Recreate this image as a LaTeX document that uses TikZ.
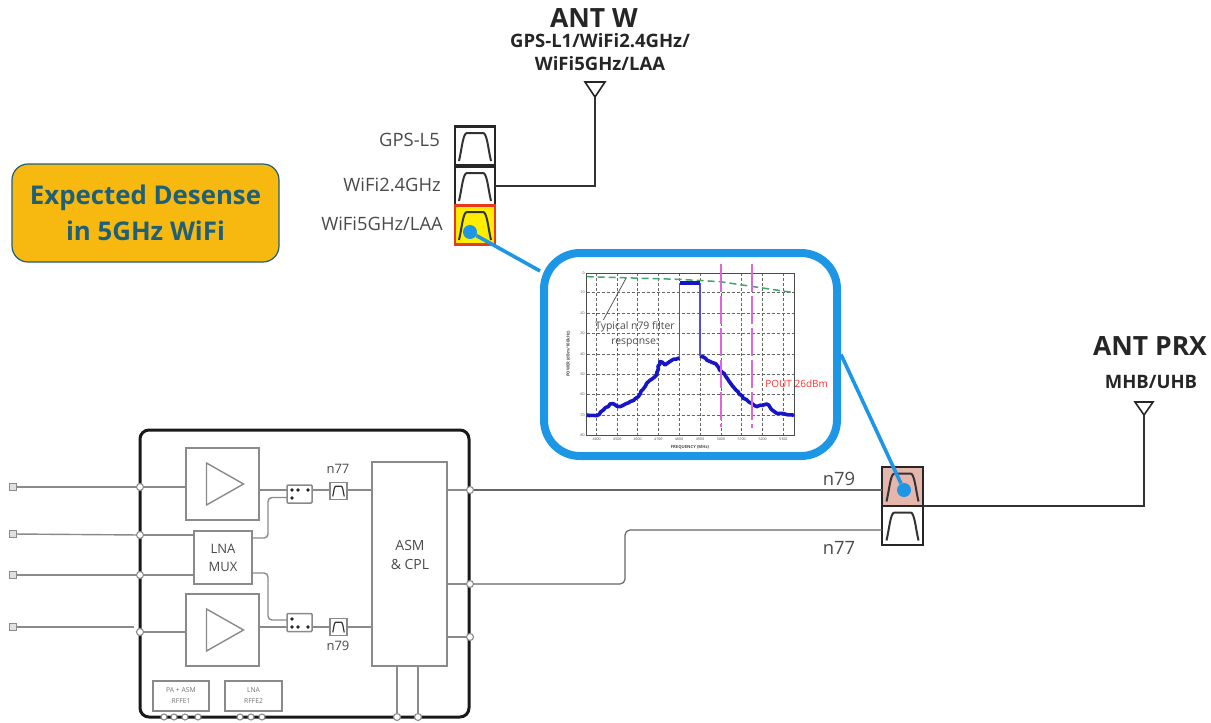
\documentclass[tikz,border=0pt]{standalone}
\usepackage{fontspec}
\setmainfont{Open Sans}
\usepackage{tikz}
\usetikzlibrary{positioning, calc, decorations.pathmorphing}

\definecolor{calloutblue}{HTML}{1E96E6}
\definecolor{wiregray}{HTML}{8A8A8A}
\definecolor{labelgray}{HTML}{4A4A4A}
\definecolor{badgeyellow}{HTML}{F7B90F}
\definecolor{badgeteal}{HTML}{1F6078}
\definecolor{filterpink}{HTML}{E5B6AC}
\definecolor{filterred}{HTML}{E8391C}
\definecolor{specblue}{HTML}{1616C8}
\definecolor{limitgreen}{HTML}{3FA56B}
\definecolor{markmagenta}{HTML}{DD66D8}

% band-pass curve inside a filter box: name, scale, line width
\newcommand{\passband}[3]{
    \draw[black!80, line width=#3, shift={(#1.center)}, scale=#2]
        (-16,15) .. controls (-13,2) and (-12,-13) .. (-8,-13) -- (8,-13) .. controls (12,-13) and (13,2) .. (16,15);
}
% amplifier triangle inside a PA box
\newcommand{\ampglyph}[1]{
    \draw[wire, shift={(#1.center)}] (-16,-21) -- (-16,21) -- (21,0) -- cycle;
}

\begin{document}
\begin{tikzpicture}[
    x=1pt, y=-1pt,
    wire/.style={draw=wiregray, line width=1.4pt},
    blockbox/.style={
        rectangle,
        draw=wiregray,
        fill=white,
        line width=1.5pt,
        inner sep=0pt,
        outer sep=0pt,
        align=center,
        text=labelgray,
        font=\fontsize{13}{18}\selectfont
    },
    pabox/.style={blockbox, minimum width=73pt, minimum height=72pt},
    muxbox/.style={blockbox, minimum width=58pt, minimum height=53pt},
    asmbox/.style={blockbox, minimum width=75pt, minimum height=204pt},
    rffebox/.style={blockbox, minimum height=30pt, text=black!55, font=\fontsize{6.8}{11}\selectfont},
    switchbox/.style={blockbox, minimum width=25pt, minimum height=18pt, rounded corners=1pt},
    tinyfilter/.style={blockbox, minimum width=17pt, minimum height=17pt},
    portbox/.style={blockbox, fill=black!12, minimum width=7pt, minimum height=7pt, line width=1pt},
    padnode/.style={circle, draw=wiregray, fill=white, line width=1.1pt, minimum size=7pt, inner sep=0pt, outer sep=0pt},
    filterbox/.style={
        rectangle,
        draw=black!85,
        fill=white,
        line width=2.2pt,
        inner sep=0pt,
        outer sep=0pt,
        minimum width=40pt,
        minimum height=39pt
    },
    antenna/.style={draw=black!85, fill=white, line width=1.6pt, line join=miter},
    feedline/.style={draw=black!80, line width=2pt},
    tag/.style={text=labelgray, inner sep=0pt, font=\fontsize{18.4}{22}\selectfont},
    anttitle/.style={text=black!85, inner sep=0pt, align=center, font=\fontsize{26.5}{30}\bfseries\selectfont},
    antband/.style={text=black!85, inner sep=0pt, align=center, font=\fontsize{18.5}{23}\bfseries\selectfont},
    dotnode/.style={circle, fill=calloutblue, minimum size=14pt, inner sep=0pt},
    callline/.style={draw=calloutblue, line width=3.6pt},
    gridline/.style={black!60, line width=0.6pt, dash pattern=on 3pt off 2pt},
    plottext/.style={text=black!70, inner sep=0pt, font=\fontsize{3.6}{4}\selectfont}
]
    \useasboundingbox (0,0) rectangle (1211,723);

    % --- MODULE OUTLINE AND BLOCKS ---
    \node[draw=black!90, line width=3pt, rounded corners=9pt, minimum width=329pt, minimum height=287pt, inner sep=0pt, outer sep=0pt] (chip) at (304.5,573.5) {};
    \node[pabox] (pa_top) at (222.5,484) {};
    \node[pabox] (pa_bot) at (222.5,630) {};
    \node[muxbox] (lna_mux) at (223,557.5) {LNA\\MUX};
    \node[asmbox] (asm) at (409.5,564) {};
    \node[text=labelgray, inner sep=0pt, align=center, font=\fontsize{14}{19}\selectfont] (asm_lbl) at (410,554.5) {ASM\\\& CPL};
    \node[rffebox, minimum width=56pt] (rffe_a) at (181,696) {PA + ASM\\RFFE1};
    \node[rffebox, minimum width=57pt] (rffe_b) at (253.5,696) {LNA\\RFFE2};
    \ampglyph{pa_top}
    \ampglyph{pa_bot}

    % Switches and small filters
    \node[switchbox] (sw_top) at (299.5,494) {};
    \node[switchbox] (sw_bot) at (299.5,622.5) {};
    \node[tinyfilter] (flt_77) at (338.5,491) {};
    \node[tinyfilter] (flt_79) at (338.5,627) {};
    \passband{flt_77}{0.36}{1.2pt}
    \passband{flt_79}{0.36}{1.2pt}
    \foreach \px in {292,298,308} {
        \fill[black!85] (\px,490) circle (1.8pt);
        \fill[black!85] (\px,627) circle (1.8pt);
    }
    \fill[black!85] (292,498) circle (1.8pt);
    \fill[black!85] (292,619) circle (1.8pt);
    \node[text=labelgray, inner sep=0pt, font=\fontsize{13}{15}\selectfont] (lbl_n77) at (338,469) {n77};
    \node[text=labelgray, inner sep=0pt, font=\fontsize{13}{15}\selectfont] (lbl_n79) at (338,646) {n79};

    % Pads on the module edge
    \node[padnode] (pad_a) at (140,487) {};
    \node[padnode] (pad_b) at (140,535) {};
    \node[padnode] (pad_c) at (140,575) {};
    \node[padnode] (pad_d) at (140,632) {};
    \node[padnode] (pad_e) at (470,490) {};
    \node[padnode] (pad_f) at (470,584) {};
    \node[padnode] (pad_g) at (470,637) {};
    \node[padnode] (pad_h) at (397,717) {};
    \node[padnode] (pad_i) at (418,717) {};
    \foreach \px in {164,174,185,198,240,251,262} {
        \node[padnode, minimum size=6pt] (pad_\px) at (\px,717) {};
    }

    % Outside ports
    \node[portbox] (port_a) at (13,487) {};
    \node[portbox] (port_b) at (13,534) {};
    \node[portbox] (port_c) at (13,575) {};
    \node[portbox] (port_d) at (13,627) {};
    \coordinate (port_d_end) at (134,627);

    % Wires inside and left of the module
    \draw[wire] (port_a) -- (pad_a);
    \draw[wire] (port_b) -- (pad_b);
    \draw[wire] (port_c) -- (pad_c);
    \draw[wire] (port_d) -- (port_d_end);
    \draw[wire] (pad_a) -- (pa_top.west |- pad_a);
    \draw[wire] (pad_b) -- (lna_mux.west |- pad_b);
    \draw[wire] (pad_c) -- (lna_mux.west |- pad_c);
    \draw[wire] (pad_d) -- (pa_bot.west |- pad_d);
    \draw[wire] (pa_top.east |- 0,490) -- (sw_top.west |- 0,490);
    \draw[wire] (pa_bot.east |- 0,627) -- (sw_bot.west |- 0,627);
    \draw[wire] (sw_top.east |- 0,490) -- (flt_77.west |- 0,490);
    \draw[wire] (sw_bot.east |- 0,627) -- (flt_79.west);
    \draw[wire] (flt_77.east |- 0,490) -- (asm.west |- 0,490);
    \draw[wire] (flt_79.east) -- (asm.west |- flt_79);
    \draw[wire, rounded corners=4pt] (lna_mux.east |- 0,538) -| (268,497.5) -- (sw_top.west |- 0,497.5);
    \draw[wire, rounded corners=4pt] (lna_mux.east |- 0,573) -| (268,620) -- (sw_bot.west |- 0,620);
    \draw[wire] (asm.east |- pad_e) -- (pad_e);
    \draw[wire] (asm.east |- pad_f) -- (pad_f);
    \draw[wire] (asm.east |- pad_g) -- (pad_g);
    \draw[wire] (asm.south -| pad_h) -- (pad_h);
    \draw[wire] (asm.south -| pad_i) -- (pad_i);

    % --- RECEIVE FILTERS AND ANT PRX ---
    \node[filterbox, fill=filterpink, minimum width=41pt] (flt_prx79) at (902.5,486.5) {};
    \node[filterbox, minimum width=41pt] (flt_prx77) at (902.5,525.5) {};
    \passband{flt_prx79}{1}{2pt}
    \passband{flt_prx77}{1}{2pt}
    \coordinate (ant_prx) at (1144,415);
    \draw[antenna] (1135,402) -- (1153,402) -- (ant_prx) -- cycle;
    \draw[feedline] (flt_prx79.south east) -- (ant_prx |- flt_prx79.south east) -- (ant_prx);
    \draw[draw=black!60, line width=1.2pt] (pad_e) -- (flt_prx79.west |- pad_e);
    \draw[draw=black!60, line width=1.2pt, rounded corners=5pt] (pad_f) -| (625,530) -- (flt_prx77.west |- 0,530);
    \node[tag] (lbl_rx79) at (839,479) {n79};
    \node[tag] (lbl_rx77) at (839,548) {n77};
    \node[anttitle] (title_prx) at (1150,346) {ANT PRX};
    \node[antband] (band_prx) at (1151,382) {MHB/UHB};

    % --- WIFI FILTERS AND ANT W ---
    \node[filterbox] (flt_gps) at (475,146) {};
    \node[filterbox] (flt_wifi2) at (475,186) {};
    \node[filterbox, fill=yellow!95!orange, draw=filterred] (flt_wifi5) at (475,225) {};
    \passband{flt_gps}{1}{2pt}
    \passband{flt_wifi2}{1}{2pt}
    \passband{flt_wifi5}{1}{2pt}
    \coordinate (ant_w) at (595,97);
    \draw[antenna] (585,82) -- (605,82) -- (ant_w) -- cycle;
    \draw[feedline] (flt_wifi2.east) -- (ant_w |- flt_wifi2.east) -- (ant_w);
    \node[tag, anchor=east] (lbl_gps) at (440,140) {GPS-L5};
    \node[tag, anchor=east] (lbl_wifi2) at (441,185) {WiFi2.4GHz};
    \node[tag, anchor=east] (lbl_wifi5) at (443,224) {WiFi5GHz/LAA};
    \node[anttitle] (title_w) at (594,18) {ANT W};
    \node[antband] (band_w) at (600,52) {GPS-L1/WiFi2.4GHz/\\WiFi5GHz/LAA};

    % Badge
    \node[draw=badgeteal, fill=badgeyellow, line width=1.2pt, rounded corners=16pt, minimum width=267pt, minimum height=98pt, inner sep=0pt, align=center, text=badgeteal, font=\fontsize{25.8}{36}\bfseries\selectfont] (badge) at (145.5,213) {Expected Desense\\in 5GHz WiFi};

    % --- CALLOUT WITH SPECTRUM PLOT ---
    \node[draw=calloutblue, fill=white, line width=8pt, rounded corners=36pt, minimum width=293pt, minimum height=203pt, inner sep=0pt, outer sep=4pt] (callout) at (690.5,354.5) {};
    \node[dotnode] (dot_wifi) at (470,232) {};
    \node[dotnode] (dot_rx) at (904,490) {};
    \draw[callline] (dot_wifi) -- (callout);
    \draw[callline] (dot_rx) -- (callout.east);

    \begin{scope}[shift={(540,250)}, scale=0.3333]
        % grid (coordinates in a 3x frame of the plot)
        \foreach \gy in {128,190,250,312,372,432,495} {
            \draw[gridline] (140,\gy) -- (762,\gy);
        }
        \foreach \gx in {170,232,293,355,417,480,543,605,668,730} {
            \draw[gridline] (\gx,70) -- (\gx,555);
        }
        \draw[black!70, line width=0.9pt] (140,70) rectangle (762,555);
        \draw[limitgreen, line width=1.5pt, dash pattern=on 7pt off 4pt] (140,80) -- (417,88) -- (540,95) -- (762,128);
        \draw[specblue, line width=3.6pt, line join=round, decorate, decoration={random steps, segment length=3pt, amplitude=0.9pt}]
            (140,495) -- (170,497) -- (190,480) -- (210,462) -- (225,464) -- (240,470) -- (270,455) -- (295,440)
            -- (320,400) -- (350,375) -- (360,335) -- (375,345) -- (400,328) -- (418,324);
        \draw[specblue, line width=3.6pt, line join=round, decorate, decoration={random steps, segment length=3pt, amplitude=0.9pt}]
            (480,318) -- (500,330) -- (530,345) -- (545,365) -- (575,405) -- (610,445) -- (650,470) -- (680,462)
            -- (710,490) -- (762,497);
        \draw[specblue!75!white, line width=1.1pt] (418,324) -- (418,98) (480,98) -- (480,318);
        \draw[specblue, line width=4pt] (420,98) -- (480,98);
        \draw[markmagenta, line width=1.8pt, dash pattern=on 28pt off 4pt] (543,42) -- (543,530);
        \draw[markmagenta, line width=1.8pt, dash pattern=on 28pt off 4pt] (637,42) -- (637,535);
        \draw[black!65, line width=0.8pt] (258,85) -- (190,210);
        \foreach \gx/\ftxt in {170/4400,232/4500,293/4600,355/4700,417/4800,480/4900,543/5000,605/5100,668/5200,730/5300} {
            \node[plottext] (xt\ftxt) at (\gx,568) {\ftxt};
        }
        \foreach \gy/\ptxt in {70/0,128/-10,190/-20,250/-30,312/-40,372/-50,432/-60,495/-70,555/-80} {
            \node[plottext, anchor=east] (yt\gy) at (135,\gy) {\ptxt};
        }
        \node[plottext, font=\fontsize{4.2}{5}\bfseries\selectfont] (xaxis_lbl) at (450,592) {FREQUENCY (MHz)};
        \node[plottext, rotate=90, font=\fontsize{4.2}{5}\bfseries\selectfont] (yaxis_lbl) at (85,312) {POWER (dBm/100kHz)};
        \node[plottext, align=center, font=\fontsize{10.4}{15}\selectfont] (typ_lbl) at (285,252) {Typical n79 filter\\response:};
        \node[plottext, text=red!80!white, font=\fontsize{10}{12}\selectfont] (pout_lbl) at (770,402) {POUT 26dBm};
    \end{scope}

\end{tikzpicture}
\end{document}
